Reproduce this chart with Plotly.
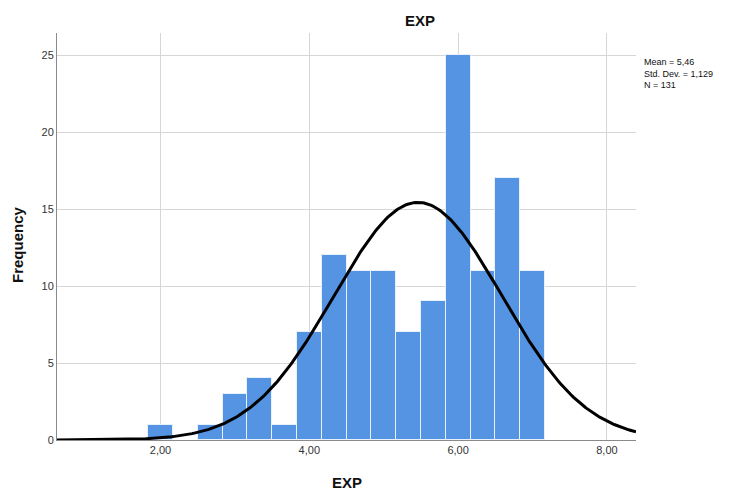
import numpy as np
import plotly.graph_objects as go

# Data (bin centres, width 1/3)
bin_centers = [2.0, 2.6667, 3.0, 3.3333, 3.6667, 4.0, 4.3333, 4.6667, 5.0,
               5.3333, 5.6667, 6.0, 6.3333, 6.6667, 7.0]
counts = [1, 1, 3, 4, 1, 7, 12, 11, 11, 7, 9, 25, 11, 17, 11]
bin_width = 1 / 3
MEAN = 5.4606
SD = 1.129
N = 131
x_tickvals = [2, 4, 6, 8]
x_ticktext = ["2,00", "4,00", "6,00", "8,00"]
y_tickvals = [0, 5, 10, 15, 20, 25]
stats_text = "Mean = 5,46<br>Std. Dev. = 1,129<br>N = 131"

X_MIN, X_MAX = 0.609, 8.391
Y_MAX = 26.43

# Fitted normal curve from the displayed mean / SD
xc = np.linspace(X_MIN, X_MAX, 400)
yc = N * bin_width * np.exp(-0.5 * ((xc - MEAN) / SD) ** 2) / (SD * np.sqrt(2 * np.pi))

fig = go.Figure()
fig.add_trace(go.Bar(
    x=bin_centers, y=counts, width=bin_width,
    marker=dict(color="#5594E2", line=dict(color="#E8F0FB", width=1)),
    hoverinfo="x+y", showlegend=False,
))
fig.add_trace(go.Scatter(
    x=xc, y=yc, mode="lines", line=dict(color="black", width=3),
    showlegend=False, hoverinfo="skip",
))

font = "Liberation Sans, Arial, sans-serif"
OFF = 8  # page body margin
W, H = 723, 487
L, T = 57 - OFF, 33 - OFF
pw, ph = 579, 407
R = W - L - pw
B = H - T - ph

def px(x):
    return (x - OFF - L) / pw

def py(y):
    return (H - B - (y - OFF)) / ph

fig.update_layout(
    width=W, height=H,
    margin=dict(l=L, r=R, t=T, b=B, autoexpand=False),
    plot_bgcolor="white", paper_bgcolor="white",
    bargap=0,
    font=dict(family=font, color="#333333", size=11),
    xaxis=dict(
        range=[X_MIN, X_MAX], tickvals=x_tickvals, ticktext=x_ticktext,
        showgrid=True, gridcolor="#D6D6D6", gridwidth=1,
        showline=True, linecolor="#8A8A8A", linewidth=1,
        zeroline=False, ticks="", tickfont=dict(size=11, color="#333333"),
        fixedrange=True, automargin=False,
    ),
    yaxis=dict(
        range=[0, Y_MAX], tickvals=y_tickvals,
        showgrid=True, gridcolor="#D6D6D6", gridwidth=1,
        showline=True, linecolor="#8A8A8A", linewidth=1,
        zeroline=False, ticks="", tickfont=dict(size=11, color="#333333"),
        fixedrange=True, automargin=False,
    ),
    annotations=[
        dict(text="<b>EXP</b>", x=px(420), y=py(21), xref="paper", yref="paper",
             showarrow=False, font=dict(size=15, color="#111111", family=font),
             xanchor="center", yanchor="middle"),
        dict(text="<b>EXP</b>", x=px(347), y=py(482), xref="paper", yref="paper",
             showarrow=False, font=dict(size=15, color="#111111", family=font),
             xanchor="center", yanchor="middle"),
        dict(text="<b>Frequency</b>", x=px(17), y=py(245), xref="paper", yref="paper",
             showarrow=False, textangle=-90, font=dict(size=15, color="#111111", family=font),
             xanchor="center", yanchor="middle"),
        dict(text=stats_text, x=px(642), y=py(55), xref="paper", yref="paper",
             showarrow=False, align="left", font=dict(size=9, color="#111111", family=font),
             xanchor="left", yanchor="top"),
    ],
)

fig.write_html("out.html")
